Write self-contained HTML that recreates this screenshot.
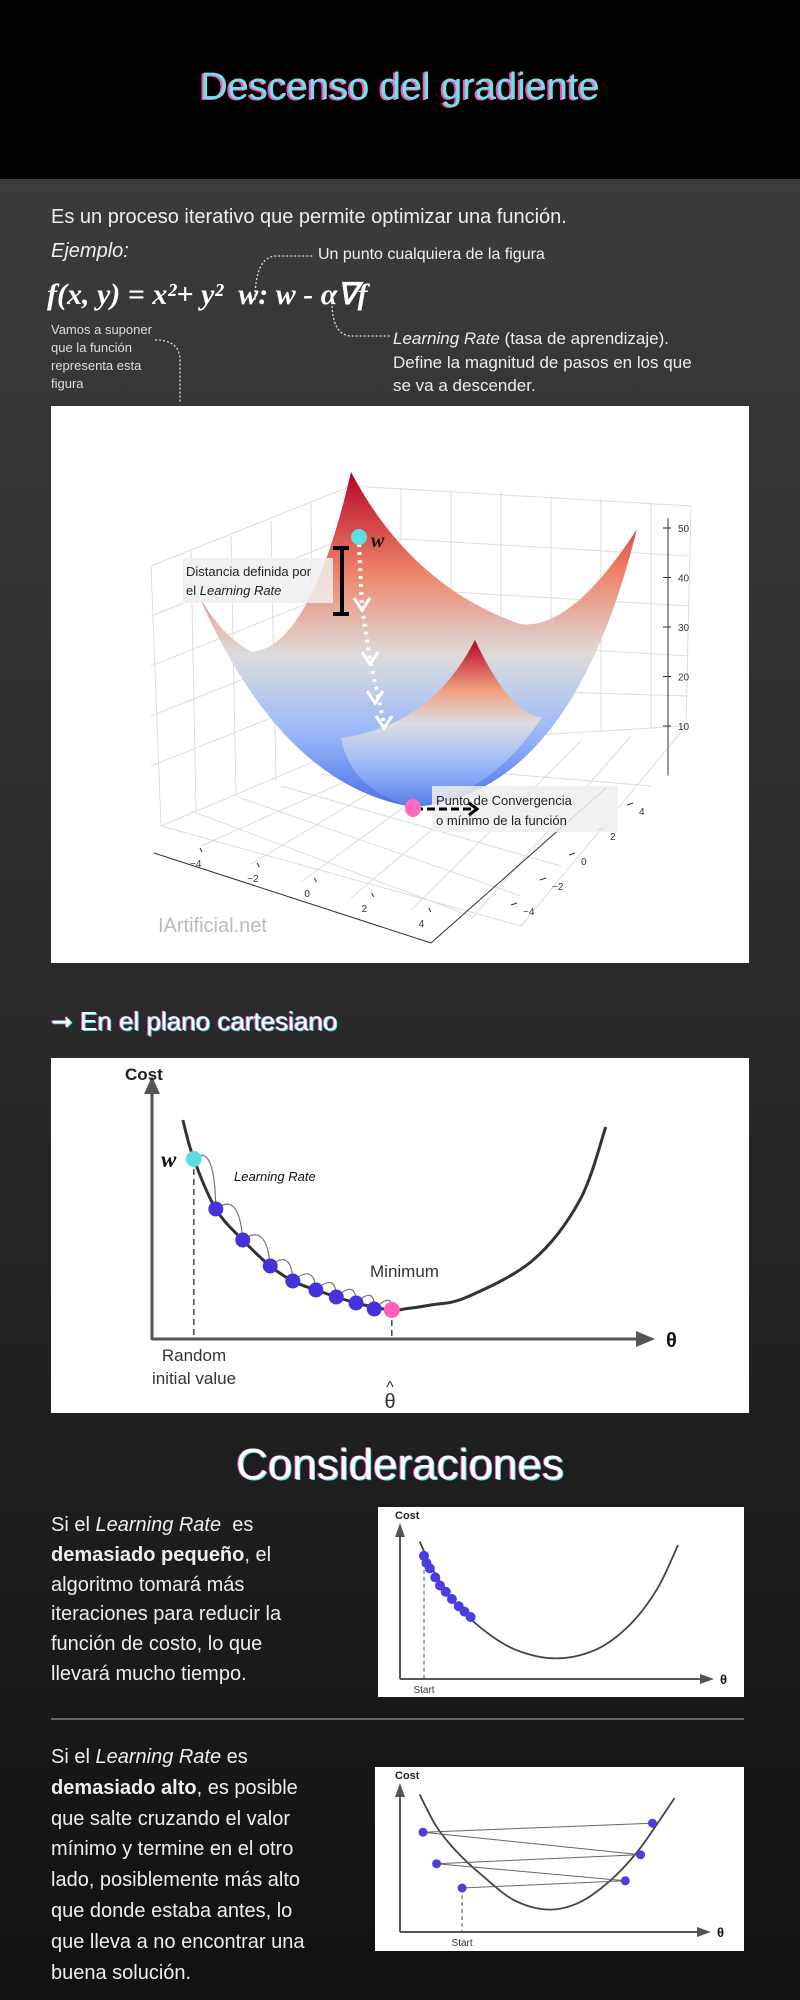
<!DOCTYPE html>
<html><head><meta charset="utf-8"><style>
*{margin:0;padding:0;box-sizing:border-box}
body{width:800px;height:2000px;overflow:hidden;font-family:"Liberation Sans",sans-serif;color:#fff;background:linear-gradient(#3b3b3b 180px,#2a2a2a 1000px,#111 2000px);position:relative}
.abs{position:absolute;white-space:nowrap}
#header{position:absolute;left:0;top:0;width:800px;height:179px;background:#000}
.glow{text-shadow:-1px 0 #ff4fb0,1px 1px #4fe3ea}
.box{position:absolute;background:#fff}
</style></head><body>
<div id="header">
 <div class="abs" style="left:0;width:800px;text-align:center;top:66px;font-size:38px;color:#6de4ec;text-shadow:-2px 1px #ff4fb0">Descenso del gradiente</div>
</div>
<p class="abs" style="left:51px;top:206px;font-size:20px;color:#eee">Es un proceso iterativo que permite optimizar una función.</p>
<p class="abs" style="left:51px;top:240px;font-size:20px;font-style:italic;color:#eee">Ejemplo:</p>
<div class="abs" style="left:47px;top:277px;font-family:'Liberation Serif',serif;font-weight:bold;font-style:italic;font-size:30px">f(x, y) = x²+ y²&nbsp;&nbsp;w: w - α∇f</div>
<div class="abs" style="left:318px;top:246px;font-size:16px;color:#eee">Un punto cualquiera de la figura</div>
<div class="abs" style="left:51px;top:321px;font-size:13px;line-height:18px;color:#ddd">Vamos a suponer<br>que la función<br>representa esta<br>figura</div>
<div class="abs" style="left:393px;top:327px;font-size:17px;line-height:23.5px;color:#eee"><i>Learning Rate</i> (tasa de aprendizaje).<br>Define la magnitud de pasos en los que<br>se va a descender.</div>
<svg class="abs" style="left:0;top:180px" width="800" height="230">
 <g fill="none" stroke="#ddd" stroke-width="1.3" stroke-dasharray="2 2">
  <path d="M255 120 Q255 78 275 76 L314 76"/>
  <path d="M332 122 Q332 154 350 156 L390 156"/>
  <path d="M155 160 Q180 160 180 180 L180 222"/>
 </g>
</svg>

<div class="box" style="left:51px;top:406px;width:698px;height:557px">
<svg id="s3d" width="698" height="557">
 <defs>
  <linearGradient id="gBack" x1="0" y1="66" x2="0" y2="401" gradientUnits="userSpaceOnUse">
   <stop offset="0" stop-color="#b40426"/><stop offset="0.3" stop-color="#ee8468"/><stop offset="0.55" stop-color="#dddcdc"/><stop offset="0.78" stop-color="#9ab8fb"/><stop offset="1" stop-color="#4a6fe3"/></linearGradient>
  <linearGradient id="gFront" x1="0" y1="234" x2="0" y2="401" gradientUnits="userSpaceOnUse">
   <stop offset="0" stop-color="#b40426"/><stop offset="0.3" stop-color="#f0a080"/><stop offset="0.5" stop-color="#dcdde0"/><stop offset="0.75" stop-color="#9ab8fb"/><stop offset="1" stop-color="#5a7ee6"/></linearGradient>
 </defs>
 <g id="grid3d" stroke="#ddd" stroke-width="1" fill="none"></g>
 <path d="M147 188 Q230 380 362 401 Q520 390 586 123 Q520 225 469 218 Q360 180 300 66 Q260 240 201 246 Q170 230 147 188Z" fill="url(#gBack)"/>
 <path d="M290 332 Q380 320 424 234 Q460 310 491 311 Q440 390 362 401 Q300 385 290 332Z" fill="url(#gFront)"/>
 <g id="ticks3d" font-size="10" fill="#333"></g>
 <rect x="132" y="152" width="150" height="45" fill="#eee" opacity="0.85"/>
 <text x="135" y="170" font-size="13" fill="#222">Distancia definida por</text>
 <text x="135" y="189" font-size="13" fill="#222">el <tspan font-style="italic">Learning Rate</tspan></text>
 <path d="M291 142 L291 208 M282 142 L298 142 M282 208 L298 208" stroke="#000" stroke-width="4"/>
 <path d="M308 138 L311 200 L319 254 L333 318" stroke="#fff" stroke-width="4" stroke-dasharray="3 5" fill="none"/>
 <path d="M303 192 L311 204 L319 192 M311 246 L319 258 L327 246 M316 285 L324 297 L332 285 M325 310 L333 322 L341 310" stroke="#fff" stroke-width="3" fill="none"/>
 <circle cx="308" cy="131" r="8" fill="#5ddfe2"/>
 <text x="320" y="141" font-family="Liberation Serif,serif" font-weight="bold" font-style="italic" font-size="20" fill="#111">w</text>
 <rect x="381" y="380" width="186" height="46" fill="#eee" opacity="0.85"/>
 <text x="385" y="399" font-size="13" fill="#222">Punto de Convergencia</text>
 <text x="385" y="419" font-size="13" fill="#222">o mínimo de la función</text>
 <path d="M364 403 L425 403" stroke="#000" stroke-width="3" stroke-dasharray="8 4"/>
 <path d="M418 397 L426 403 L418 409" stroke="#000" stroke-width="3" fill="none"/>
 <ellipse cx="362" cy="402" rx="8" ry="9" fill="#ff69c0"/>
 <text x="107" y="526" font-size="20" fill="#bbb">IArtificial.net</text>
</svg></div>

<div class="abs glow" style="left:51px;top:1006px;font-size:26px;color:#f4ffff">➞ En el plano cartesiano</div>
<div class="box" style="left:51px;top:1058px;width:698px;height:355px">
<svg id="cart" width="698" height="355"></svg></div>

<div class="abs glow" style="left:0;width:800px;text-align:center;top:1440px;font-size:44px">Consideraciones</div>

<div class="abs" style="left:51px;top:1511px;font-size:20px;line-height:29.8px;color:#eee">Si el <i>Learning Rate</i>&nbsp; es<br><b>demasiado pequeño</b>, el<br>algoritmo tomará más<br>iteraciones para reducir la<br>función de costo, lo que<br>llevará mucho tiempo.</div>
<div class="box" style="left:378px;top:1507px;width:366px;height:190px"><svg id="c1" width="366" height="190"></svg></div>
<div class="abs" style="left:51px;top:1718px;width:693px;height:2px;background:#666"></div>
<div class="abs" style="left:51px;top:1742px;font-size:20px;line-height:30.8px;color:#eee">Si el <i>Learning Rate</i> es<br><b>demasiado alto</b>, es posible<br>que salte cruzando el valor<br>mínimo y termine en el otro<br>lado, posiblemente más alto<br>que donde estaba antes, lo<br>que lleva a no encontrar una<br>buena solución.</div>
<div class="box" style="left:375px;top:1767px;width:369px;height:184px"><svg id="c2" width="369" height="184"></svg></div>

<script>
// ---- 3D plot tick data ----
const zTicks=[10,20,30,40,50];
const xTicks3d=[-4,-2,0,2,4];
const yTicks3d=[-4,-2,0,2,4];
// ---- Cartesian chart data ----
const curveTheta=[0.56,0.76,1.16,1.65,2.15,2.56,2.98,3.71,4.36,4.64,5.07,5.73,6.93,7.78,8.25];
const curveCost=[8.8,7.24,5.24,4.0,2.96,2.36,2.0,1.48,1.2,1.26,1.4,1.72,3.2,5.6,8.52];
const stepTheta=[1.16,1.65,2.15,2.56,2.98,3.35,3.71,4.04];
const stepCost=[5.24,4.0,2.96,2.36,2.0,1.72,1.48,1.24];
const startTheta=0.76, startCost=7.24, minTheta=4.36, minCost=1.2;
// ---- small LR chart data ----
const c1Theta=[0.4,0.8,1.4,2.2,3.2,4.4,5.6,6.6,7.4,8.0];
const c1Cost=[7.2,5.6,3.9,2.4,1.2,0.7,1.2,2.6,4.6,7.0];
const c1StepTheta=[0.53,0.6,0.7,0.86,1.0,1.17,1.35,1.55,1.72,1.9];
const c1StepCost=[6.4,6.0,5.7,5.2,4.75,4.4,4.0,3.6,3.3,3.0];
// ---- large LR chart data ----
const c2Theta=[0.4,0.9,1.5,2.3,3.2,4.2,5.1,6.0,6.8,7.4,7.9];
const c2Cost=[7.2,5.4,4.0,2.6,1.3,0.8,1.2,2.4,4.0,5.6,7.0];
const c2StepTheta=[1.65,6.45,0.9,6.9,0.5,7.25];
const c2StepCost=[2.0,2.4,3.35,3.85,5.1,5.6];

const NS='http://www.w3.org/2000/svg';
function mk(p,t,a){const e=document.createElementNS(NS,t);for(const k in a)e.setAttribute(k,a[k]);p.appendChild(e);return e;}
function smooth(pts){let d='M'+pts[0][0]+' '+pts[0][1];for(let i=0;i<pts.length-1;i++){const p0=pts[i-1]||pts[i],p1=pts[i],p2=pts[i+1],p3=pts[i+2]||p2;d+=' C'+(p1[0]+(p2[0]-p0[0])/6)+' '+(p1[1]+(p2[1]-p0[1])/6)+' '+(p2[0]-(p3[0]-p1[0])/6)+' '+(p2[1]-(p3[1]-p1[1])/6)+' '+p2[0]+' '+p2[1];}return d;}

(function(){
 const g=document.getElementById('grid3d');
 const lines=[[100,160,300,80],[300,80,640,100],[640,100,635,320],[100,160,110,420],[110,420,300,340],[300,340,635,320],[300,80,300,340],[110,420,470,520],[470,520,635,320],
  [140,145,145,405],[180,130,185,390],[220,115,225,375],[260,97,262,355],[350,82,350,337],[400,84,400,334],[450,86,450,330],[500,89,500,328],[550,92,550,325],[600,96,600,322],
  [100,210,300,130],[100,260,300,180],[100,310,300,230],[100,360,300,280],[300,130,638,150],[300,180,638,200],[300,230,638,250],[300,280,638,290],
  [150,440,340,355],[200,458,380,350],[250,476,430,345],[300,492,480,340],[360,504,530,335],[420,513,580,330],
  [420,510,140,405],[470,490,190,392],[510,460,230,380],[560,420,270,368],[600,380,300,355]];
 lines.forEach(l=>mk(g,'line',{x1:l[0],y1:l[1],x2:l[2],y2:l[3]}));
 const t=document.getElementById('ticks3d');
 const zy=v=>320-(v-10)*4.95;
 mk(t,'line',{x1:617,y1:zy(0),x2:617,y2:zy(52),stroke:'#333'});
 zTicks.forEach(v=>{const y=zy(v);mk(t,'line',{x1:612,y1:y,x2:620,y2:y,stroke:'#333'});const e=mk(t,'text',{x:627,y:y+4});e.textContent=v;});
 mk(t,'line',{x1:103,y1:447,x2:380,y2:537,stroke:'#333'});
 xTicks3d.forEach(v=>{const x=145+(v+4)*28.6,y=457+(v+4)*7.5;mk(t,'line',{x1:x+4,y1:y-15,x2:x+6,y2:y-11,stroke:'#333'});const e=mk(t,'text',{x:x-6,y:y+4});e.textContent=v<0?'−'+(-v):v;});
 mk(t,'line',{x1:380,y1:537,x2:555,y2:382,stroke:'#333'});
 yTicks3d.forEach(v=>{const x=480+(v+4)*14.5,y=505-(v+4)*12.5;mk(t,'line',{x1:x-20,y1:y-6,x2:x-14,y2:y-8,stroke:'#333'});const e=mk(t,'text',{x:x-8,y:y+4});e.textContent=v<0?'−'+(-v):v;});
})();

(function(){
 const s=document.getElementById('cart');
 const X=t=>101+t*55, Y=c=>282-c*25;
 mk(s,'path',{d:'M101 282 L101 30',stroke:'#555','stroke-width':3});
 mk(s,'path',{d:'M93 36 L101 18 L109 36Z',fill:'#555'});
 mk(s,'path',{d:'M101 281 L590 281',stroke:'#555','stroke-width':3});
 mk(s,'path',{d:'M585 273 L604 281 L585 289Z',fill:'#555'});
 let e=mk(s,'text',{x:74,y:22,'font-size':17,'font-weight':'bold',fill:'#222'});e.textContent='Cost';
 e=mk(s,'text',{x:615,y:289,'font-size':20,'font-weight':'bold',fill:'#111'});e.textContent='θ';
 mk(s,'line',{x1:X(startTheta),y1:Y(startCost),x2:X(startTheta),y2:282,stroke:'#444','stroke-width':1.5,'stroke-dasharray':'6 4'});
 mk(s,'line',{x1:X(minTheta),y1:Y(minCost),x2:X(minTheta),y2:282,stroke:'#444','stroke-width':1.5,'stroke-dasharray':'6 4'});
 mk(s,'path',{d:smooth(curveTheta.map((t,i)=>[X(t),Y(curveCost[i])])),fill:'none',stroke:'#333','stroke-width':3});
 const hops=[[startTheta,startCost]].concat(stepTheta.map((t,i)=>[t,stepCost[i]])).concat([[minTheta,minCost]]);
 for(let i=0;i<hops.length-1;i++){const x1=X(hops[i][0]),y1=Y(hops[i][1]),x2=X(hops[i+1][0]),y2=Y(hops[i+1][1]);
  mk(s,'path',{d:`M${x1} ${y1} Q${(x1+x2)/2+10} ${Math.min(y1,y2)-18} ${x2} ${y2}`,fill:'none',stroke:'#777','stroke-width':1.2});}
 stepTheta.forEach((t,i)=>{const c=mk(s,'circle',{cx:X(t),cy:Y(stepCost[i]),r:7.5,fill:'#4433dd'});
  
  });
 mk(s,'circle',{cx:X(startTheta),cy:Y(startCost),r:8,fill:'#5ddfe2'});
 mk(s,'circle',{cx:X(minTheta),cy:Y(minCost),r:8,fill:'#ff5fb8'});
 e=mk(s,'text',{x:110,y:109,'font-size':23,'font-family':'Liberation Serif,serif','font-weight':'bold','font-style':'italic',fill:'#111'});e.textContent='w';
 e=mk(s,'text',{x:183,y:123,'font-size':13,'font-style':'italic',fill:'#111'});e.textContent='Learning Rate';
 e=mk(s,'text',{x:319,y:219,'font-size':17,fill:'#333'});e.textContent='Minimum';
 e=mk(s,'text',{x:143,y:303,'font-size':17,fill:'#333','text-anchor':'middle'});e.textContent='Random';
 e=mk(s,'text',{x:143,y:326,'font-size':17,fill:'#333','text-anchor':'middle'});e.textContent='initial value';
 e=mk(s,'text',{x:339,y:334,'font-size':16,fill:'#333','text-anchor':'middle'});e.textContent='^';
 e=mk(s,'text',{x:339,y:350,'font-size':20,fill:'#333','text-anchor':'middle'});e.textContent='θ';
})();

function small(id,th,co,st,sc,mode,ay,ax){
 const s=document.getElementById(id);
 const X=t=>ax+6+t*34, Y=c=>ay-8-c*18;
 mk(s,'line',{x1:ax,y1:ay,x2:ax,y2:26,stroke:'#555','stroke-width':2});
 mk(s,'path',{d:`M${ax-5} 30 L${ax} 16 L${ax+5} 30Z`,fill:'#555'});
 mk(s,'line',{x1:ax,y1:ay,x2:325,y2:ay,stroke:'#555','stroke-width':2});
 mk(s,'path',{d:`M322 ${ay-5} L336 ${ay} L322 ${ay+5}Z`,fill:'#555'});
 let e=mk(s,'text',{x:ax-5,y:12,'font-size':11,'font-weight':'bold',fill:'#222'});e.textContent='Cost';
 e=mk(s,'text',{x:342,y:ay+5,'font-size':13,'font-weight':'bold',fill:'#111'});e.textContent='θ';
 const sx=X(st[0]), sy=Y(sc[0]);
 mk(s,'line',{x1:sx,y1:sy,x2:sx,y2:ay,stroke:'#555','stroke-dasharray':'4 3'});
 e=mk(s,'text',{x:sx,y:ay+14,'font-size':10,fill:'#333','text-anchor':'middle'});e.textContent='Start';
 mk(s,'path',{d:smooth(th.map((t,i)=>[X(t),Y(co[i])])),fill:'none',stroke:'#444','stroke-width':1.8});
 if(mode)for(let i=0;i<st.length-1;i++)mk(s,'line',{x1:X(st[i]),y1:Y(sc[i]),x2:X(st[i+1]),y2:Y(sc[i+1]),stroke:'#666','stroke-width':1});
 st.forEach((t,i)=>{const c=mk(s,'circle',{cx:X(t),cy:Y(sc[i]),r:mode?4.5:5,fill:'#4a3ee0'});
  
  });
}
small('c1',c1Theta,c1Cost,c1StepTheta,c1StepCost,false,172,22);
small('c2',c2Theta,c2Cost,c2StepTheta,c2StepCost,true,165,25);
</script>
</body></html>
